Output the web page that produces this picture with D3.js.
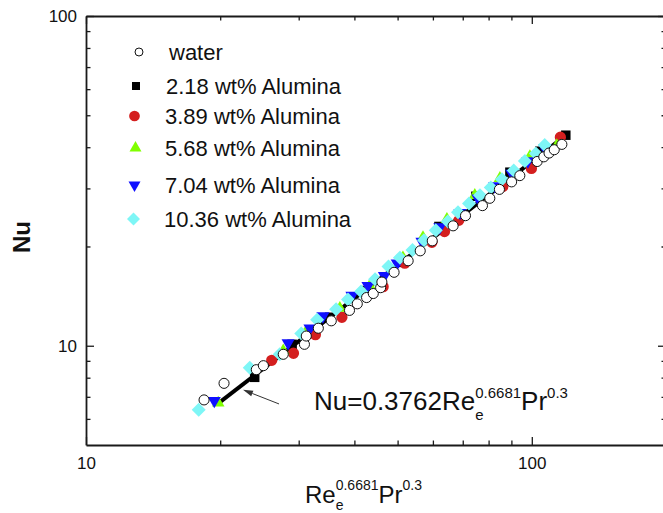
<!DOCTYPE html>
<html>
<head>
<meta charset="utf-8">
<script src="https://cdn.jsdelivr.net/npm/d3@7"></script>
<style>
  html, body { margin: 0; padding: 0; background: #ffffff; }
  svg { display: block; font-family: "Liberation Sans", Arial, Helvetica, sans-serif; }
</style>
</head>
<body>
<svg id="chart" width="663" height="513"></svg>
<script>
// Nusselt number against the Re_e^0.6681 Pr^0.3 group for water and alumina nanofluids

const seriesNames = ["water", "2.18 wt% Alumina", "3.89 wt% Alumina",
                     "5.68 wt% Alumina", "7.04 wt% Alumina", "10.36 wt% Alumina"];

const waterX  = [18.4, 20.4, 24.1, 25.0, 27.7, 30.9, 31.2, 33.2, 35.5, 39.0, 40.6, 42.6, 44.1, 45.8, 46.1, 49.1,
                 52.8, 56.2, 59.8, 66.6, 71.0, 77.5, 80.5, 84.6, 90.1, 94.0, 102.8, 106.4, 109.3, 112.3, 116.8];
const waterNu = [6.85, 7.69, 8.46, 8.70, 9.42, 10.1, 10.7, 11.3, 11.9, 12.8, 13.4, 14.0, 14.4, 15.0, 15.6, 16.7,
                 18.1, 19.4, 20.8, 23.1, 24.8, 26.6, 28.0, 29.8, 31.4, 32.8, 36.2, 37.4, 38.4, 39.3, 40.8];

const al218X  = [23.9, 29.0, 35.2, 42.2, 50.6, 61.9, 74.9, 89.3, 104.2, 119.2];
const al218Nu = [8.02, 10.1, 12.2, 14.7, 17.9, 23.0, 28.4, 33.6, 38.9, 43.5];

const al389X  = [26.1, 29.2, 32.7, 37.5, 46.4, 51.9, 59.7, 63.7, 68.6, 86.1, 99.8, 115.9];
const al389Nu = [9.03, 9.49, 10.8, 12.2, 15.1, 17.8, 20.6, 22.2, 24.0, 30.4, 34.5, 42.9];

const al568X  = [19.8, 27.7, 31.0, 37.1, 43.3, 51.4, 57.0, 64.5, 74.5, 84.8, 99.0, 113.8];
const al568Nu = [6.71, 9.65, 10.9, 13.0, 15.2, 18.5, 21.3, 24.2, 28.6, 32.2, 37.5, 40.5];

const al704X  = [19.4, 28.4, 31.8, 34.0, 39.5, 42.9, 46.7, 49.9, 56.7, 62.2, 69.0, 75.7, 82.6, 90.2, 98.0, 106.9];
const al704Nu = [6.81, 10.2, 11.3, 12.3, 14.2, 15.2, 16.3, 17.8, 20.7, 22.9, 25.3, 28.0, 30.5, 33.3, 36.3, 39.7];

const al1036X  = [17.9, 23.3, 27.2, 30.4, 33.0, 36.4, 38.7, 41.4, 44.5, 47.7, 50.6, 54.0, 57.3, 60.9, 64.8, 68.3,
                  72.3, 76.5, 80.9, 85.7, 91.1, 96.5, 102.1, 106.9];
const al1036Nu = [6.39, 8.58, 9.42, 10.9, 12.0, 12.9, 13.8, 14.6, 15.9, 17.4, 18.5, 19.5, 20.9, 22.4, 23.8, 25.4,
                  27.0, 28.6, 30.2, 32.0, 34.0, 36.3, 38.3, 40.6];

// correlation line and the arrow pointing at it
const fitX  = [19.9, 118.0];
const fitNu = [6.72, 43.0];
const arrowX  = [27.1, 22.5];   // tail, tip
const arrowNu = [6.66, 7.35];

const xDomain = [10, 200];
const yDomain = [5, 100];
const xMajorTicks = [10, 100];
const xMinorTicks = [20, 30, 40, 50, 60, 70, 80, 90];
const yMajorTicks = [10, 100];
const yMinorTicks = [6, 7, 8, 9, 20, 30, 40, 50, 60, 70, 80, 90];

const svg = d3.select("#chart");
const plot = { left: 86, right: 666, top: 16, bottom: 445 };

const x = d3.scaleLog().domain(xDomain).range([plot.left, plot.right]);
const y = d3.scaleLog().domain(yDomain).range([plot.bottom, plot.top]);

const axisColor = "#1a1a1a";
const tickFmt = d => String(d);

function styleAxis(g, width) {
  g.selectAll("path.domain").attr("stroke", axisColor).attr("stroke-width", width);
  g.selectAll(".tick line").attr("stroke", axisColor).attr("stroke-width", 1.3);
}

// frame: four axes with inward ticks
const axes = svg.append("g");
const gBottom = axes.append("g").attr("transform", `translate(0,${plot.bottom})`)
  .call(d3.axisBottom(x).tickValues(xMajorTicks).tickFormat(tickFmt).tickSize(-8).tickSizeOuter(0).tickPadding(12));
gBottom.selectAll("text").attr("font-size", 17).attr("fill", "#111").attr("font-family", null);
styleAxis(gBottom, 1.8);
const gBottomMinor = axes.append("g").attr("transform", `translate(0,${plot.bottom})`)
  .call(d3.axisBottom(x).tickValues(xMinorTicks).tickFormat("").tickSize(-4.5).tickSizeOuter(0));
gBottomMinor.select("path.domain").remove();
styleAxis(gBottomMinor, 1.8);

const gTop = axes.append("g").attr("transform", `translate(0,${plot.top})`)
  .call(d3.axisTop(x).tickValues(xMajorTicks).tickFormat("").tickSize(-8).tickSizeOuter(0));
styleAxis(gTop, 1.8);
const gTopMinor = axes.append("g").attr("transform", `translate(0,${plot.top})`)
  .call(d3.axisTop(x).tickValues(xMinorTicks).tickFormat("").tickSize(-4.5).tickSizeOuter(0));
gTopMinor.select("path.domain").remove();
styleAxis(gTopMinor, 1.8);

const gLeft = axes.append("g").attr("transform", `translate(${plot.left},0)`)
  .call(d3.axisLeft(y).tickValues(yMajorTicks).tickFormat(tickFmt).tickSize(-8).tickSizeOuter(0).tickPadding(9));
gLeft.selectAll("text").attr("font-size", 17).attr("fill", "#111").attr("font-family", null);
styleAxis(gLeft, 1.8);
const gLeftMinor = axes.append("g").attr("transform", `translate(${plot.left},0)`)
  .call(d3.axisLeft(y).tickValues(yMinorTicks).tickFormat("").tickSize(-4.5).tickSizeOuter(0));
gLeftMinor.select("path.domain").remove();
styleAxis(gLeftMinor, 1.8);

const gRight = axes.append("g").attr("transform", `translate(${plot.right},0)`)
  .call(d3.axisRight(y).tickValues(yMajorTicks).tickFormat("").tickSize(-8).tickSizeOuter(0));
styleAxis(gRight, 1.8);
const gRightMinor = axes.append("g").attr("transform", `translate(${plot.right},0)`)
  .call(d3.axisRight(y).tickValues(yMinorTicks).tickFormat("").tickSize(-4.5).tickSizeOuter(0));
gRightMinor.select("path.domain").remove();
styleAxis(gRightMinor, 1.8);

// correlation line
const line = d3.line().x(d => x(d[0])).y(d => y(d[1]));
svg.append("path")
  .datum(d3.zip(fitX, fitNu))
  .attr("d", line)
  .attr("fill", "none")
  .attr("stroke", "#000")
  .attr("stroke-width", 4);

// series, drawn in stacking order
const series = [
  { name: seriesNames[1], xs: al218X,  ys: al218Nu,  type: d3.symbolSquare,   size: 90,  rot: 0,   fill: "#000000", stroke: "none" },
  { name: seriesNames[2], xs: al389X,  ys: al389Nu,  type: d3.symbolCircle,   size: 100, rot: 0,   fill: "#d41f1f", stroke: "none" },
  { name: seriesNames[3], xs: al568X,  ys: al568Nu,  type: d3.symbolTriangle, size: 68,  rot: 0,   fill: "#80ff00", stroke: "none" },
  { name: seriesNames[4], xs: al704X,  ys: al704Nu,  type: d3.symbolTriangle, size: 74,  rot: 180, fill: "#1010ff", stroke: "none" },
  { name: seriesNames[5], xs: al1036X, ys: al1036Nu, type: d3.symbolSquare,   size: 98,  rot: 45,  fill: "#7ef6f6", stroke: "none" },
  { name: seriesNames[0], xs: waterX,  ys: waterNu,  type: d3.symbolCircle,   size: 80,  rot: 0,   fill: "#ffffff", stroke: "#111" }
];

series.forEach(s => {
  const sym = d3.symbol().type(s.type).size(s.size);
  svg.append("g").selectAll("path")
    .data(d3.zip(s.xs, s.ys))
    .join("path")
    .attr("d", sym)
    .attr("transform", d => `translate(${x(d[0])},${y(d[1])}) rotate(${s.rot})`)
    .attr("fill", s.fill)
    .attr("stroke", s.stroke)
    .attr("stroke-width", 1);
});

// legend
const legendRows = [
  { s: series[5], mx: 139, my: 52,  tx: 169, size: 50 },
  { s: series[0], mx: 136, my: 86,  tx: 166, size: 64 },
  { s: series[1], mx: 134.5, my: 116, tx: 165, size: 90 },
  { s: series[2], mx: 135.5, my: 148, tx: 165, size: 62 },
  { s: series[3], mx: 134.5, my: 185, tx: 165, size: 62 },
  { s: series[4], mx: 133.5, my: 219, tx: 164, size: 84 }
];
const legend = svg.append("g");
legendRows.forEach(r => {
  legend.append("path")
    .attr("d", d3.symbol().type(r.s.type).size(r.size))
    .attr("transform", `translate(${r.mx},${r.my}) rotate(${r.s.rot})`)
    .attr("fill", r.s.fill)
    .attr("stroke", r.s.stroke)
    .attr("stroke-width", 1);
  legend.append("text")
    .attr("x", r.tx)
    .attr("y", r.my + 7.5)
    .attr("font-size", 22)
    .attr("fill", "#111")
    .text(r.s.name);
});

// text with stacked subscript / superscript pieces
function formula(g, x0, y0, parts, big, small, supDy, subDy) {
  let cursor = x0;
  let i = 0;
  while (i < parts.length) {
    const p = parts[i];
    if (p.role === "main") {
      const t = g.append("text").attr("x", cursor).attr("y", y0).attr("font-size", big).attr("fill", "#111").text(p.text);
      cursor += t.node().getComputedTextLength();
      i++;
    } else {
      let w = 0;
      while (i < parts.length && parts[i].role !== "main") {
        const q = parts[i];
        const t = g.append("text").attr("x", cursor)
          .attr("y", y0 + (q.role === "sup" ? supDy : subDy))
          .attr("font-size", small).attr("fill", "#111").text(q.text);
        w = Math.max(w, t.node().getComputedTextLength());
        i++;
      }
      cursor += w;
    }
  }
}

// axis titles
svg.append("text")
  .attr("transform", "translate(30,237) rotate(-90)")
  .attr("text-anchor", "middle")
  .attr("font-size", 24)
  .attr("font-weight", "bold")
  .attr("fill", "#111")
  .text("Nu");

formula(svg.append("g"), 305, 503, [
  { role: "main", text: "Re" },
  { role: "sup", text: "0.6681" }, { role: "sub", text: "e" },
  { role: "main", text: "Pr" },
  { role: "sup", text: "0.3" }
], 24, 14, -13, 7);

// correlation label and arrow
formula(svg.append("g"), 314, 410, [
  { role: "main", text: "Nu=0.3762Re" },
  { role: "sup", text: "0.6681" }, { role: "sub", text: "e" },
  { role: "main", text: "Pr" },
  { role: "sup", text: "0.3" }
], 26, 15, -12, 10);

const tail = [x(arrowX[0]), y(arrowNu[0])];
const tip  = [x(arrowX[1]), y(arrowNu[1])];
const dx = tip[0] - tail[0], dy = tip[1] - tail[1];
const len = Math.hypot(dx, dy);
const ux = dx / len, uy = dy / len;
const headL = 10, headW = 3;
const base = [tip[0] - ux * headL, tip[1] - uy * headL];
svg.append("line")
  .attr("x1", tail[0]).attr("y1", tail[1])
  .attr("x2", base[0]).attr("y2", base[1])
  .attr("stroke", "#333").attr("stroke-width", 1);
svg.append("path")
  .attr("d", `M${tip[0]},${tip[1]} L${base[0] - uy * headW},${base[1] + ux * headW} L${base[0] + uy * headW},${base[1] - ux * headW} Z`)
  .attr("fill", "#333");
</script>
</body>
</html>
